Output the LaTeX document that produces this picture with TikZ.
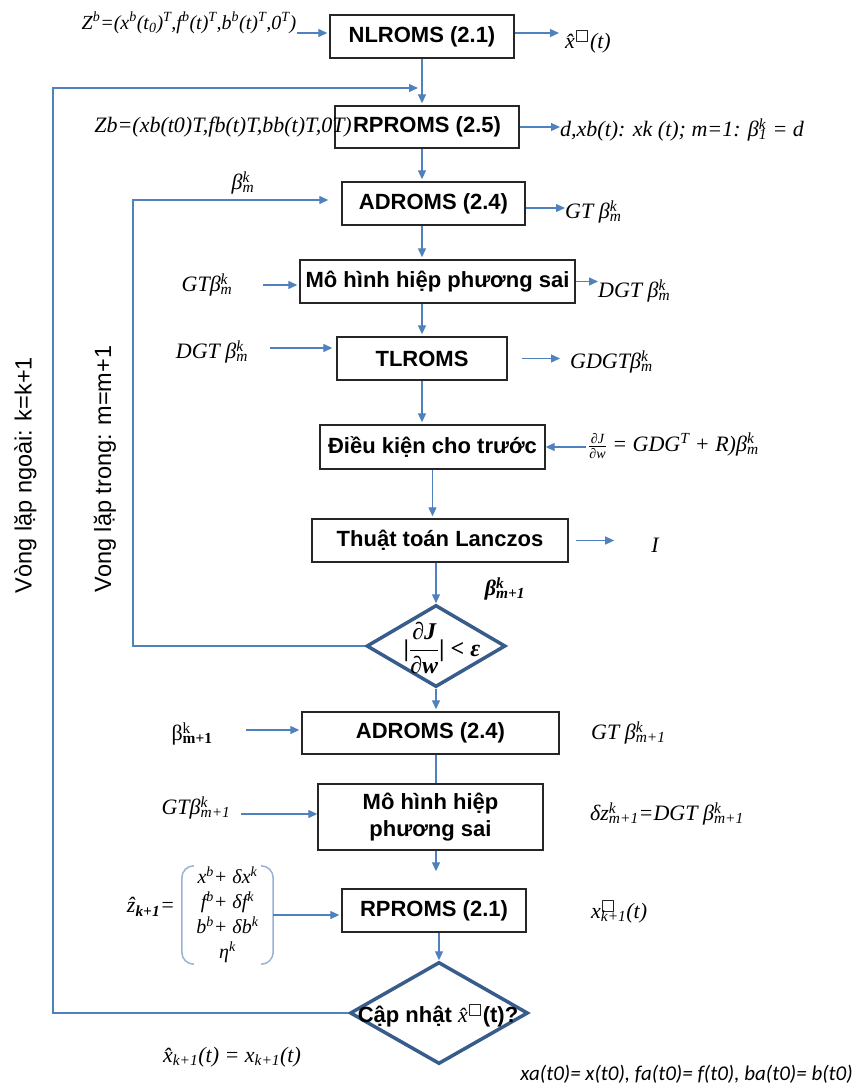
\documentclass[tikz,border=0pt]{standalone}
\usepackage{amsmath,amssymb}
\usepackage{fontspec}
\setmainfont{Liberation Serif}
\setsansfont{Liberation Sans}
\newfontfamily\calib{Carlito}
\newfontfamily\dejavu{DejaVu Sans}
\usetikzlibrary{arrows.meta,shapes.geometric}
\definecolor{lnblue}{RGB}{79,129,189}
\definecolor{dmblue}{RGB}{56,93,138}
\definecolor{parblue}{RGB}{150,178,215}
\newcommand\ssc[2]{\rlap{\textsuperscript{#1}}\textsubscript{#2}}
\newcommand\sqbox{{\dejavu\upshape\mdseries □}}
\tikzset{
  box/.style={draw=black!85, line width=1.4pt, rectangle, inner sep=0pt, align=center,
    font=\sffamily\bfseries\fontsize{22}{27}\selectfont},
  lbl/.style={inner sep=0pt, font=\itshape\fontsize{22}{26}\selectfont},
  arr/.style={draw=lnblue, line width=1.3pt, -{Triangle[length=9pt,width=8pt]}},
  ln/.style={draw=lnblue, line width=1.3pt},
  dec/.style={diamond, draw=dmblue, line width=3.5pt, inner sep=0pt},
  vlab/.style={rotate=90, inner sep=0pt, font=\sffamily\fontsize{23.5}{28}\selectfont},
  paren/.style={draw=parblue, line width=1.5pt, rounded corners=12pt}
}
\begin{document}
\begin{tikzpicture}[x=1pt,y=-1pt]
\useasboundingbox (0,0) rectangle (855,1087);

% ---- boxes
\node[box, minimum width=184pt, minimum height=43pt] (nl) at (422,36.5) {NLROMS (2.1)};
\node[box, minimum width=184pt, minimum height=42pt] (rp) at (427,127) {RPROMS (2.5)};
\node[box, minimum width=183pt, minimum height=43pt] (ad) at (433.5,203.5) {ADROMS (2.4)};
\node[box, minimum width=275pt, minimum height=43pt] (cov) at (437.5,281.5) {Mô hình hiệp phương sai};
\node[box, minimum width=170pt, minimum height=43pt] (tl) at (422,358.5) {TLROMS};
\node[box, minimum width=225pt, minimum height=44pt] (dk) at (432.5,447) {Điều kiện cho trước};
\node[box, minimum width=256pt, minimum height=43pt] (lz) at (440,540.5) {Thuật toán Lanczos};
\node[dec, minimum width=139pt, minimum height=82pt] (d1) at (436,646) {};
\node[box, minimum width=257pt, minimum height=42pt] (ad2) at (430.5,733) {ADROMS (2.4)};
\node[box, minimum width=225pt, minimum height=66pt] (cov2) at (430.5,817) {Mô hình hiệp\\phương sai};
\node[box, minimum width=184pt, minimum height=43pt] (rp2) at (434,910.5) {RPROMS (2.1)};
\node[dec, minimum width=178pt, minimum height=102pt] (d2) at (439,1013) {};

% ---- texts inside diamonds
\node[lbl, font=\bfseries\itshape\fontsize{24}{28}\selectfont] (d1t) at (442,648)
  {\textbar$\dfrac{\hbox{∂J}}{\hbox{∂w}}$\textbar{} < ε};
\node[lbl, font=\sffamily\bfseries\fontsize{22}{26}\selectfont] (d2t) at (438,1016)
  {Cập nhật {\rmfamily\itshape\mdseries \^{x}}\textsuperscript{\sqbox}(t)?};

% ---- side labels
\node[lbl, font=\itshape\fontsize{20}{24}\selectfont] (zb) at (189,23)
  {Z\textsuperscript{b}=(x\textsuperscript{b}(t\textsubscript{0})\textsuperscript{T},f\textsuperscript{b}(t)\textsuperscript{T},b\textsuperscript{b}(t)\textsuperscript{T},0\textsuperscript{T})};
\node[lbl, anchor=west] (xh) at (565,42) {\^{x}\textsuperscript{\sqbox}(t)};
\node[lbl, anchor=east] (zb2) at (352,127) {Zb=(xb(t0)T,fb(t)T,bb(t)T,0T)};
\node[lbl, anchor=west] (drt) at (560,130) {d,xb(t): xk (t); m=1: β\ssc{k}{1} = d};
\node[lbl] (bmk) at (243,183) {β\ssc{k}{m}};
\node[lbl, anchor=west] (gt1) at (565,212) {GT β\ssc{k}{m}};
\node[lbl] (gtl) at (207,285) {GTβ\ssc{k}{m}};
\node[lbl, anchor=west] (dgt1) at (598,291) {DGT β\ssc{k}{m}};
\node[lbl] (dgtl) at (212,352) {DGT β\ssc{k}{m}};
\node[lbl, anchor=west] (gdgt) at (570,362) {GDGTβ\ssc{k}{m}};
\node[lbl, anchor=west] (frm) at (588,446)
  {$\frac{\hbox{\fontsize{14}{14}\selectfont\itshape ∂J}}{\hbox{\fontsize{14}{14}\selectfont\itshape ∂w}}$ = GDG\textsuperscript{T} + R)β\ssc{k}{m}};
\node[lbl] (il) at (655,545) {I};
\node[lbl, font=\bfseries\itshape\fontsize{22}{26}\selectfont] (bm1) at (505,589) {β\ssc{k}{m+1}};
\node[lbl, font=\upshape\fontsize{22}{26}\selectfont] (bm1l) at (192,734) {β\ssc{k}{\bfseries m+1}};
\node[lbl, anchor=west] (gt2) at (591,733) {GT β\ssc{k}{m+1}};
\node[lbl] (gtl2) at (196,808) {GTβ\ssc{k}{m+1}};
\node[lbl, anchor=west] (dz) at (590,814) {δz\ssc{k}{m+1}=DGT β\ssc{k}{m+1}};
\node[lbl] (zhat) at (151,907) {\^{z}\textsubscript{\bfseries k+1}=};
\node[inner sep=0pt, minimum width=91pt, minimum height=98pt, align=center, font=\itshape\fontsize{20}{25}\selectfont] (zmat) at (227.5,915)
  {x\textsuperscript{b}+ δx\textsuperscript{k}\\ f\textsuperscript{b}+ δf\textsuperscript{k}\\ b\textsuperscript{b}+ δb\textsuperscript{k}\\ η\textsuperscript{k}};
\node[lbl, anchor=west] (xk1) at (591,912) {x\ssc{\sqbox}{k+1}(t)};
\node[lbl] (xeq) at (232,1057) {\^{x}\textsubscript{k+1}(t) = x\textsubscript{k+1}(t)};
\node[lbl, anchor=east, font=\calib\itshape\fontsize{21}{25}\selectfont] (xa) at (853,1074)
  {xa(t0)= x(t0), fa(t0)= f(t0), ba(t0)= b(t0)};

% ---- loop labels
\node[vlab] (vout) at (25.5,475) {Vòng lặp ngoài: k=k+1};
\node[vlab] (vin) at (105,469) {Vong lặp trong: m=m+1};

% ---- matrix parentheses
\draw[paren] ([xshift=11pt]zmat.north west) -- (zmat.north west) -- (zmat.south west) -- ([xshift=11pt]zmat.south west);
\draw[paren] ([xshift=-11pt]zmat.north east) -- (zmat.north east) -- (zmat.south east) -- ([xshift=-11pt]zmat.south east);

% ---- main chain
\draw[arr, shorten >=2pt] (nl.south) -- (nl.south |- rp.north);
\draw[arr, shorten >=2pt] (tl.north |- rp.south) -- (tl.north |- ad.north);
\draw[arr, shorten >=2pt] (tl.north |- ad.south) -- (tl.north |- cov.north);
\draw[arr, shorten >=2pt] (tl.north |- cov.south) -- (tl.north);
\draw[arr, shorten >=2pt] (tl.south) -- (tl.south |- dk.north);
\draw[arr, shorten >=2pt] (dk.south) -- (dk.south |- lz.north);
\draw[arr] (d1.north |- lz.south) -- (d1.north);
\draw[arr, shorten >=2pt] (d1.south) -- (d1.south |- ad2.north);
\draw[ln] (d1.south |- ad2.south) -- (d1.south |- cov2.north);
\draw[arr, shorten >=17pt] (d1.south |- cov2.south) -- (d1.south |- rp2.north);
\draw[arr] (d2.north |- rp2.south) -- (d2.north);

% ---- loops
\coordinate (oc) at (53,88);
\draw[arr, shorten >=4pt] (d2.west) -| (oc) -- (oc -| nl.south);
\coordinate (ic) at (133,200);
\draw[arr, shorten >=13pt] (d1.west) -| (ic) -- (ic -| ad.west);

% ---- side arrows
\path ([yshift=3.5pt]nl.west) coordinate (nlw) ([yshift=3.5pt]nl.east) coordinate (nle)
      ([yshift=-4.5pt]ad.east) coordinate (ade) ([yshift=-3.5pt]cov.west) coordinate (covw)
      ([yshift=10.5pt]tl.west) coordinate (tlw) ([yshift=3pt]ad2.west) coordinate (ad2w)
      ([yshift=3pt]cov2.west) coordinate (cov2w);
\draw[arr, shorten >=2pt] (nlw -| zb.east) -- (nlw);
\draw[arr, shorten >=6pt] (nle) -- (nle -| xh.west);
\draw[arr] (rp.east) -- (rp.east -| drt.west);
\draw[arr] (ade) -- (ade -| gt1.west);
\draw[arr, shorten <=30pt, shorten >=2pt] (covw -| gtl.east) -- (covw);
\draw[arr] (cov.east) -- (cov.east -| dgt1.west);
\draw[arr, shorten <=22pt, shorten >=4pt] (tlw -| dgtl.east) -- (tlw);
\draw[arr, shorten <=14pt, shorten >=10pt] (tl.east) -- (tl.east -| gdgt.west);
\draw[arr, shorten <=2pt] (frm.west |- dk.east) -- (dk.east);
\draw[arr, shorten <=7pt, shorten >=37pt] (lz.east) -- (lz.east -| il.west);
\draw[arr, shorten <=33pt, shorten >=2pt] (ad2w -| bm1l.east) -- (ad2w);
\draw[arr, shorten <=10pt] (cov2w -| gtl2.east) -- (cov2w);
\draw[arr, shorten >=2pt] (zmat.east) -- (zmat.east -| rp2.west);
\end{tikzpicture}
\end{document}
